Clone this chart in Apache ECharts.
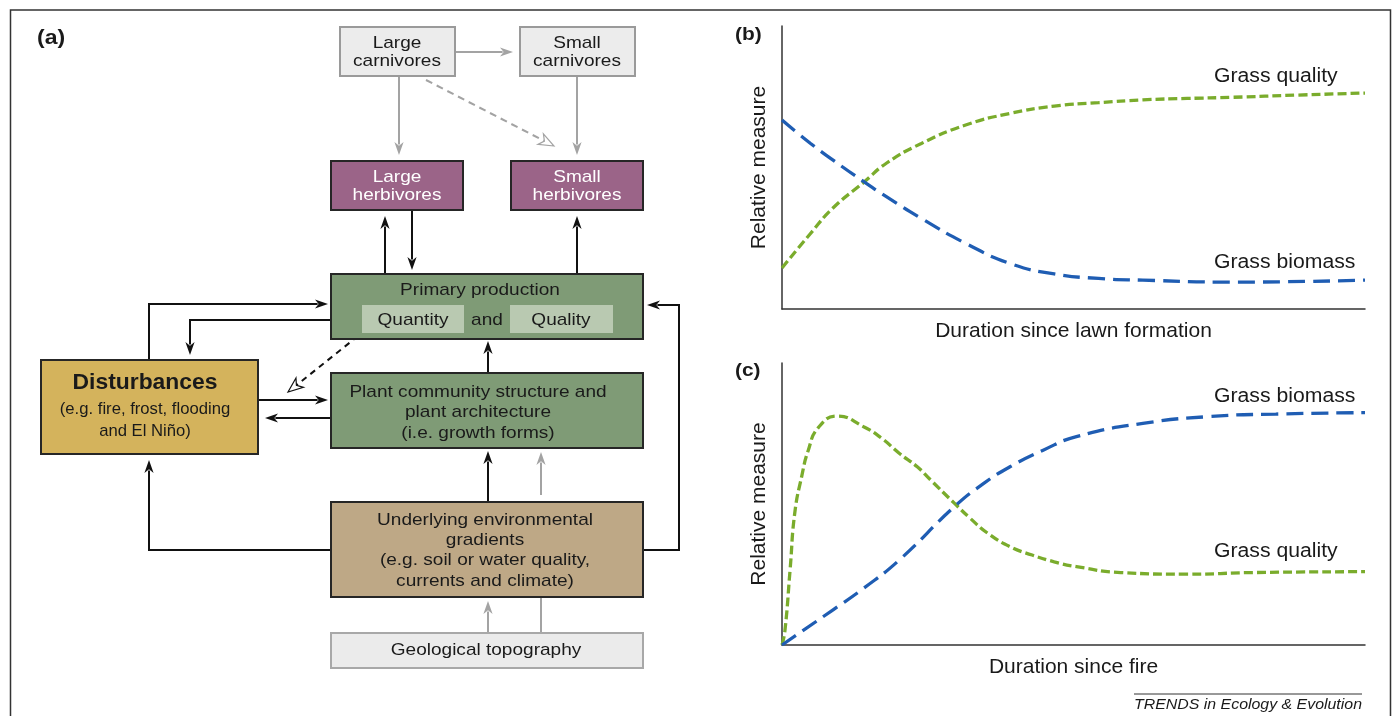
<!DOCTYPE html>
<html><head><meta charset="utf-8">
<script src="https://cdn.jsdelivr.net/npm/echarts@6/dist/echarts.min.js"></script>
<style>html,body{margin:0;padding:0;background:#fff}#c{width:1394px;height:716px}</style>
</head><body><div id="c"></div>
<script>
// ---------- Panel (b): duration since lawn formation ----------
const quality_b = [[0,14.5],[4.9,26.7],[8.7,35.6],[14.1,44.9],[17.9,51.5],[23.9,58.5],[31.5,65],[39.1,69.1],[46.7,71.7],[54.3,72.9],[61.9,73.9],[69.5,74.4],[77.2,74.8],[88.5,75.6],[100,76.3]];
const biomass_b = [[0,66.8],[4.9,58.5],[8.7,52.7],[14.1,44.9],[17.9,39.7],[23.9,32],[31.5,23.2],[39.1,16.1],[46.7,12.4],[54.3,10.8],[61.9,10.2],[77.2,9.5],[100,10.2]];
// ---------- Panel (c): duration since fire ----------
const quality_c = [[0,0],[0.5,5],[1.4,27],[2.2,47],[3.4,60],[4.5,69],[6.2,77],[9.5,81.2],[14,77.4],[17.1,73.3],[20.1,68],[23.2,63.2],[25.5,58.5],[29.6,50.2],[32.3,44.9],[35.3,39.6],[39.1,34.9],[42.9,31.9],[46.7,29.5],[50.5,27.8],[58.1,25.7],[69.5,25.1],[80.9,25.7],[100,26]];
const biomass_c = [[0,0],[8.7,12.4],[14,20.1],[20.1,30.1],[29.6,49.1],[34.6,57.3],[39.1,63.2],[44.8,69.1],[50.5,73.9],[61.9,78.6],[73.3,81],[84.7,81.9],[100,82.4]];
const seriesNames = ['Grass quality', 'Grass biomass'];
const xAxisNames = ['Duration since lawn formation', 'Duration since fire'];
const yAxisName = 'Relative measure';
const panelLabels = ['(a)', '(b)', '(c)'];
// curve label anchors [x, y] in data units (left edge, vertical centre)
const curveLabels_b = [[74.1, 82, seriesNames[0]], [74.1, 16.6, seriesNames[1]]];
const curveLabels_c = [[74.1, 88.3, seriesNames[1]], [74.1, 33, seriesNames[0]]];

// ---------- Panel (a): diagram ----------
const nodeText = [
  ['Large', 'carnivores'],
  ['Small', 'carnivores'],
  ['Large', 'herbivores'],
  ['Small', 'herbivores'],
  ['Primary production'],
  ['Quantity'],
  ['Quality'],
  ['Disturbances', '(e.g. fire, frost, flooding', 'and El Niño)'],
  ['Plant community structure and', 'plant architecture', '(i.e. growth forms)'],
  ['Underlying environmental', 'gradients', '(e.g. soil or water quality,', 'currents and climate)'],
  ['Geological topography']
];
const nodeKind = ['carn','carn','herb','herb','green','inner','inner','dist','green','tan','geo'];
// layout in diagram units: [x0, y0, x1, y1, textCenterX, firstLineY, lineGap]
const nodeLayout = [
  [340, 27, 455, 76, 397, 43, 18],
  [520, 27, 635, 76, 577, 43, 18],
  [331, 161, 463, 210, 397, 177, 18],
  [511, 161, 643, 210, 577, 177, 18],
  [331, 274, 643, 339, 480, 290, 20],
  [362, 305, 464, 333, 413, 320, 20],
  [510, 305, 613, 333, 561, 320, 20],
  [41, 360, 258, 454, 145, 383, 24],
  [331, 373, 643, 448, 478, 392, 20.5],
  [331, 502, 643, 597, 485, 520, 20.4],
  [331, 633, 643, 668, 486, 650, 20]
];
const extraText = [['and', 487, 320]];
// arrows: polyline points (diagram units) and style key
const arrowPts = [
  [[455,52],[513,52]],
  [[399,76],[399,155]],
  [[577,76],[577,155]],
  [[426,80],[554,146]],
  [[385,274],[385,216]],
  [[412,210],[412,270]],
  [[577,274],[577,216]],
  [[149,360],[149,304],[328,304]],
  [[362,320],[190,320],[190,355]],
  [[358,336],[288,392]],
  [[258,400],[328,400]],
  [[331,418],[265,418]],
  [[488,373],[488,341]],
  [[488,502],[488,451]],
  [[541,495],[541,452]],
  [[331,550],[149,550],[149,460]],
  [[643,550],[679,550],[679,305],[647,305]],
  [[488,633],[488,601]],
  [[541,597],[541,633]]
];
const arrowKind = ['gray','gray','gray','grayDashOpen','black','black','black','black','black','blackDashOpen','black','black','black','black','gray','black','black','gray','grayPlain'];

const FONT = '"Liberation Sans", Arial, Helvetica, sans-serif';
const TXT = '#1a1a1a';
const GREEN = '#7aac2c';
const BLUE = '#1f5db3';

const nodeStyle = {
  carn:  {fill:'#ececec', stroke:'#9a9a9a', lw:2, color:TXT},
  herb:  {fill:'#9b6488', stroke:'#262626', lw:2, color:'#ffffff'},
  green: {fill:'#7f9b76', stroke:'#262626', lw:2, color:TXT},
  inner: {fill:'#b9c9b1', stroke:null, lw:0, color:TXT},
  dist:  {fill:'#d4b35c', stroke:'#262626', lw:2, color:TXT},
  tan:   {fill:'#bea886', stroke:'#262626', lw:2, color:TXT},
  geo:   {fill:'#ebebeb', stroke:'#a8a8a8', lw:2, color:TXT}
};
const arrowStyle = {
  gray:          {color:'#a3a3a3', lw:2, dash:null, head:'solid'},
  grayPlain:     {color:'#a3a3a3', lw:2, dash:null, head:'none'},
  grayDashOpen:  {color:'#a3a3a3', lw:2, dash:[7,5], head:'open'},
  black:         {color:'#111111', lw:2, dash:null, head:'solid'},
  blackDashOpen: {color:'#111111', lw:2, dash:[6,5], head:'open'}
};

function textEl(t, c, font, fill, align, sx) {
  return {type:'text', x:c[0], y:c[1], scaleX:sx, scaleY:1,
    style:{text:t, x:0, y:0, fill:fill, font:font,
      align:align, verticalAlign:'middle', textAlign:align, textVerticalAlign:'middle'}};
}

function renderNode(params, api) {
  const i = params.dataIndex;
  const L = nodeLayout[i];
  const kind = nodeKind[i];
  const st = nodeStyle[kind];
  const p0 = api.coord([L[0], L[1]]);
  const p1 = api.coord([L[2], L[3]]);
  const children = [{
    type:'rect',
    shape:{x:p0[0], y:p0[1], width:p1[0]-p0[0], height:p1[1]-p0[1]},
    style:{fill:st.fill, stroke:st.stroke, lineWidth:st.lw}
  }];
  nodeText[i].forEach((t, k) => {
    let y = L[5] + k * L[6];
    let font = '17px ' + FONT, sx = 1.12;
    if (kind === 'dist') {
      if (k === 0) { font = 'bold 22px ' + FONT; sx = 1.04; }
      else { y = L[5] + 26 + (k - 1) * 22; sx = 0.98; }
    }
    children.push(textEl(t, api.coord([L[4], y]), font, st.color, 'center', sx));
  });
  return {type:'group', children};
}

function renderExtra(params, api) {
  const e = extraText[params.dataIndex];
  return textEl(e[0], api.coord([e[1], e[2]]), '17px ' + FONT, TXT, 'center', 1.12);
}

function renderCurveLabel(list) {
  return function (params, api) {
    const e = list[params.dataIndex];
    return textEl(e[2], api.coord([e[0], e[1]]), '20px ' + FONT, TXT, 'left', 1.06);
  };
}

function renderArrow(params, api) {
  const pts = arrowPts[params.dataIndex].map(p => api.coord(p));
  const st = arrowStyle[arrowKind[params.dataIndex]];
  const n = pts.length;
  const tip = pts[n-1], prev = pts[n-2];
  let dx = tip[0]-prev[0], dy = tip[1]-prev[1];
  const len = Math.hypot(dx, dy); dx /= len; dy /= len;
  const nx = -dy, ny = dx;
  const linePts = pts.slice();
  const children = [];
  if (st.head !== 'none') {
    const open = st.head === 'open';
    const Lh = open ? 15 : 13, W = open ? 6 : 4.6;
    const back = [tip[0]-Lh*dx, tip[1]-Lh*dy];
    const notch = [tip[0]-0.72*Lh*dx, tip[1]-0.72*Lh*dy];
    linePts[n-1] = open ? notch : [tip[0]-0.8*Lh*dx, tip[1]-0.8*Lh*dy];
    children.push({
      type:'polygon', z2:2,
      shape:{points:[tip, [back[0]+W*nx, back[1]+W*ny], notch, [back[0]-W*nx, back[1]-W*ny]]},
      style: open ? {fill:'#ffffff', stroke:st.color, lineWidth:1.2} : {fill:st.color}
    });
  }
  children.unshift({type:'polyline', shape:{points:linePts},
    style:{stroke:st.color, lineWidth:st.lw, lineDash:st.dash, fill:null}});
  return {type:'group', children};
}

const panelAxis = (gi, name) => ({
  x: {type:'value', gridIndex:gi, min:0, max:100, name:name, nameLocation:'middle', nameGap:12,
      nameTextStyle:{fontSize:21, color:TXT, fontFamily:FONT},
      axisLine:{show:true, onZero:false, lineStyle:{color:'#333', width:1.5}},
      axisTick:{show:false}, axisLabel:{show:false}, splitLine:{show:false}},
  y: {type:'value', gridIndex:gi, min:0, max:100, name:yAxisName, nameLocation:'middle', nameGap:12, nameRotate:90,
      nameTextStyle:{fontSize:21, color:TXT, fontFamily:FONT},
      axisLine:{show:true, onZero:false, lineStyle:{color:'#333', width:1.5}},
      axisTick:{show:false}, axisLabel:{show:false}, splitLine:{show:false}}
});
const pb = panelAxis(1, xAxisNames[0]);
const pc = panelAxis(2, xAxisNames[1]);

const curve = (name, data, gi, color, dash) => ({
  type:'line', name, data, xAxisIndex:gi, yAxisIndex:gi, smooth:0.5,
  showSymbol:false, symbol:'none', lineStyle:{color, width:3.3, type:dash}, z:3
});
const labelSeries = (gi, list) => ({
  type:'custom', xAxisIndex:gi, yAxisIndex:gi, renderItem:renderCurveLabel(list),
  data:list.map(e => [e[0], e[1]]), encode:{x:0, y:1}, clip:false, silent:true, z:4
});

const chart = echarts.init(document.getElementById('c'), null, {renderer:'canvas'});
chart.setOption({
  animation:false,
  backgroundColor:'#ffffff',
  textStyle:{fontFamily:FONT},
  grid:[
    {left:0, top:0, width:1394, height:716, outerBoundsMode:'none', containLabel:false},
    {left:782, top:26, width:583, height:283, outerBoundsMode:'none', containLabel:false},
    {left:782, top:363, width:583, height:282, outerBoundsMode:'none', containLabel:false}
  ],
  xAxis:[
    {type:'value', gridIndex:0, min:0, max:1394, show:false},
    pb.x, pc.x
  ],
  yAxis:[
    {type:'value', gridIndex:0, min:0, max:716, inverse:true, show:false},
    pb.y, pc.y
  ],
  graphic:[
    {type:'rect', shape:{x:10.5, y:10, width:1380, height:720}, style:{fill:null, stroke:'#333', lineWidth:1.5}, z:0},
    {type:'text', x:37, y:38, scaleX:1.15, style:{text:panelLabels[0], font:'bold 20px ' + FONT, fill:TXT, verticalAlign:'middle', textVerticalAlign:'middle'}},
    {type:'text', x:735, y:35, scaleX:1.1, style:{text:panelLabels[1], font:'bold 19px ' + FONT, fill:TXT, verticalAlign:'middle', textVerticalAlign:'middle'}},
    {type:'text', x:735, y:371, scaleX:1.1, style:{text:panelLabels[2], font:'bold 19px ' + FONT, fill:TXT, verticalAlign:'middle', textVerticalAlign:'middle'}},
    {type:'line', shape:{x1:1134, y1:694, x2:1362, y2:694}, style:{stroke:'#333', lineWidth:1}},
    {type:'text', x:1362, y:705, scaleX:1.06, style:{text:'TRENDS in Ecology & Evolution', font:'italic 15px ' + FONT, fill:TXT,
      align:'right', textAlign:'right', verticalAlign:'middle', textVerticalAlign:'middle'}}
  ],
  series:[
    {type:'custom', xAxisIndex:0, yAxisIndex:0, renderItem:renderArrow, data:arrowPts.map(a => a[0]), encode:{x:0, y:1}, clip:false, silent:true, z:2},
    {type:'custom', xAxisIndex:0, yAxisIndex:0, renderItem:renderNode, data:nodeLayout.map(l => [l[0], l[1], l[2], l[3]]), encode:{x:[0,2], y:[1,3]}, clip:false, silent:true, z:3},
    {type:'custom', xAxisIndex:0, yAxisIndex:0, renderItem:renderExtra, data:extraText.map(e => [e[1], e[2]]), encode:{x:0, y:1}, clip:false, silent:true, z:4},
    curve(seriesNames[0], quality_b, 1, GREEN, [9,4]),
    curve(seriesNames[1], biomass_b, 1, BLUE, [17,8]),
    curve(seriesNames[0], quality_c, 2, GREEN, [9,4]),
    curve(seriesNames[1], biomass_c, 2, BLUE, [17,8]),
    labelSeries(1, curveLabels_b),
    labelSeries(2, curveLabels_c)
  ]
});
</script></body></html>
